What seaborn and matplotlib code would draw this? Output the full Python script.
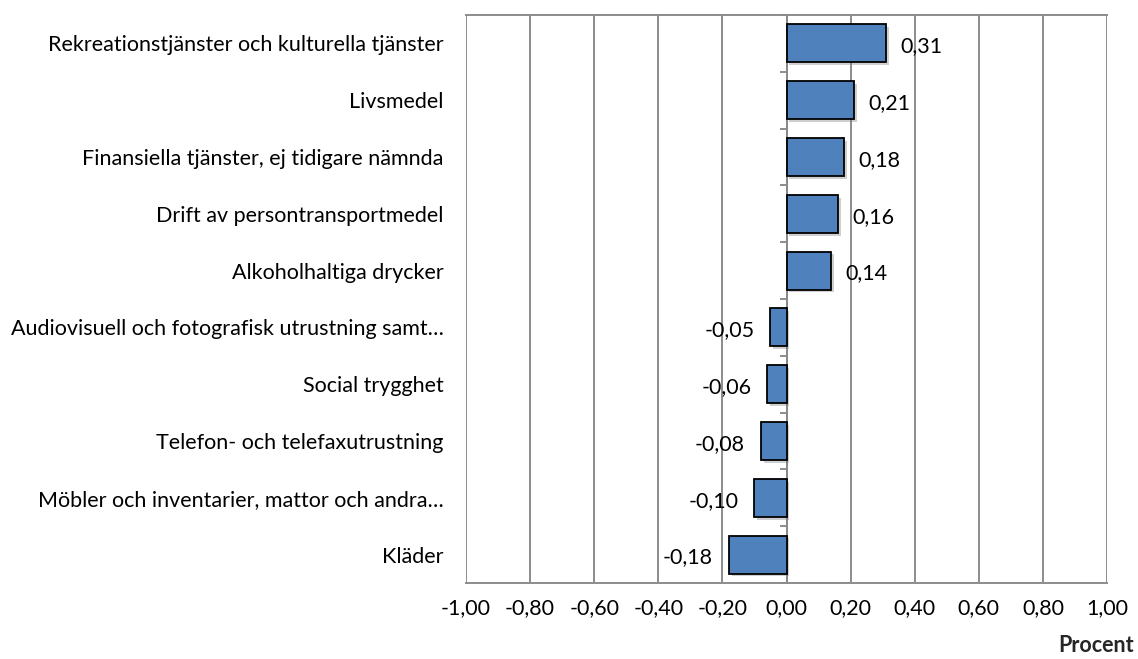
import matplotlib
matplotlib.use("Agg")
import matplotlib.pyplot as plt
import matplotlib.patheffects as pe
import seaborn as sns
import pandas as pd

categories = [
    "Rekreationstjänster och kulturella tjänster",
    "Livsmedel",
    "Finansiella tjänster, ej tidigare nämnda",
    "Drift av persontransportmedel",
    "Alkoholhaltiga drycker",
    "Audiovisuell och fotografisk utrustning samt…",
    "Social trygghet",
    "Telefon- och telefaxutrustning",
    "Möbler och inventarier, mattor och andra…",
    "Kläder",
]
values = [0.31, 0.21, 0.18, 0.16, 0.14, -0.05, -0.06, -0.08, -0.10, -0.18]
xticks = [-1.0, -0.8, -0.6, -0.4, -0.2, 0.0, 0.2, 0.4, 0.6, 0.8, 1.0]

sns.set_theme(style="white")
plt.rcParams["font.family"] = ["Lato", "DejaVu Sans"]

FS = 15.5
GRID = "#8C8C8C"

df = pd.DataFrame({"cat": categories, "val": values})

fig = plt.figure(figsize=(11.38, 6.59), dpi=100)
ax = fig.add_axes([466 / 1138, 1 - 583 / 659, (1107 - 466) / 1138, (583 - 15) / 659])

sns.barplot(data=df, x="val", y="cat", orient="h", color="#4F81BD",
            saturation=1, edgecolor="black", linewidth=1.3, width=0.67, ax=ax, zorder=3)
for p in ax.patches:
    p.set_path_effects([pe.SimplePatchShadow(offset=(2, -2), shadow_rgbFace="#777777", alpha=0.35),
                        pe.Normal()])

ax.set_xlim(-1, 1)
ax.set_ylim(len(categories) - 0.5, -0.5)
ax.set_xticks(xticks)
ax.set_xticklabels([f"{t:.2f}".replace(".", ",") for t in xticks], fontsize=FS, color="black")
ax.xaxis.grid(True, color=GRID, linewidth=1.4, zorder=0)
ax.yaxis.grid(False)
ax.set_xlabel("")
ax.set_ylabel("")
ax.tick_params(axis="x", direction="out", length=5, width=1.4, color=GRID, pad=6)
ax.tick_params(axis="y", length=0, pad=16, labelsize=FS, labelcolor="black")
for s in ["left", "right"]:
    ax.spines[s].set_visible(False)
for s in ["top", "bottom"]:
    ax.spines[s].set_color(GRID)
    ax.spines[s].set_linewidth(1.4)

# vertical axis at zero with boundary ticks
sec = ax.secondary_yaxis(0.5)
sec.set_yticks([i + 0.5 for i in range(-1, len(categories))])
sec.set_yticklabels([])
sec.tick_params(direction="in", length=5, width=1.4, color=GRID)
sec.spines["left"].set_color(GRID)
sec.spines["left"].set_linewidth(1.4)

for i, v in enumerate(values):
    lab = f"{v:.2f}".replace(".", ",")
    if v >= 0:
        ax.text(v + 0.045, i + 0.05, lab, ha="left", va="center", fontsize=FS, color="black", zorder=5)
    else:
        ax.text(v - 0.05, i + 0.05, lab, ha="right", va="center", fontsize=FS, color="black", zorder=5)

fig.text(1134 / 1138, 1 - 645 / 659, "Procent", ha="right", va="center", fontsize=FS, fontweight="bold")

fig.savefig("out.png", dpi=100)
